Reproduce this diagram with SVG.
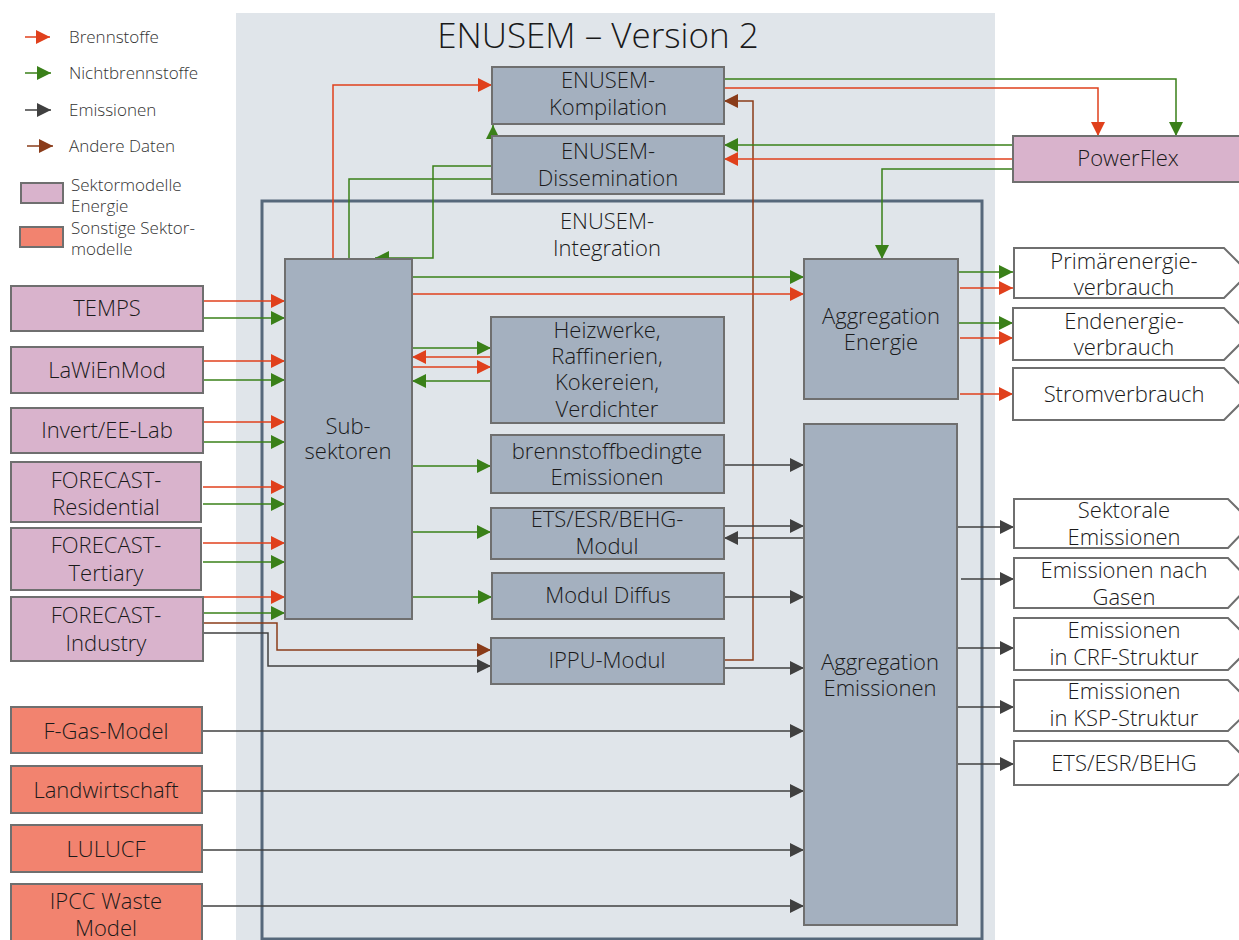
<svg xmlns="http://www.w3.org/2000/svg" width="1239" height="940" viewBox="0 0 1239 940">
<defs>
<style>
text{font-family:"Open Sans","Noto Sans","Liberation Sans",sans-serif;fill:#1a1a1a;text-anchor:middle;font-size:22px;font-weight:300}
.lg{font-size:17px;text-anchor:start;fill:#333}
.n{fill:#a4b0bf;stroke:#6f6f6f;stroke-width:2}
.p{fill:#d9b3cc;stroke:#6f6f6f;stroke-width:2}
.s{fill:#f2836f;stroke:#6f6f6f;stroke-width:2}
.o{fill:#fff;stroke:#6f6f6f;stroke-width:2}
.c{fill:none;stroke-width:1.5}
.r{stroke:#e0401c;marker-end:url(#ar)}
.g{stroke:#3a8019;marker-end:url(#ag)}
.d{stroke:#404040;marker-end:url(#ad)}
.b{stroke:#8a3c1a;marker-end:url(#ab)}
</style>
<marker id="ar" markerUnits="userSpaceOnUse" markerWidth="14" markerHeight="14" viewBox="0 0 12 12" refX="12" refY="6" orient="auto"><path d="M0,0L12,6L0,12z" fill="#e0401c"/></marker>
<marker id="ag" markerUnits="userSpaceOnUse" markerWidth="14" markerHeight="14" viewBox="0 0 12 12" refX="12" refY="6" orient="auto"><path d="M0,0L12,6L0,12z" fill="#3a8019"/></marker>
<marker id="ad" markerUnits="userSpaceOnUse" markerWidth="14" markerHeight="14" viewBox="0 0 12 12" refX="12" refY="6" orient="auto"><path d="M0,0L12,6L0,12z" fill="#404040"/></marker>
<marker id="ab" markerUnits="userSpaceOnUse" markerWidth="14" markerHeight="14" viewBox="0 0 12 12" refX="12" refY="6" orient="auto"><path d="M0,0L12,6L0,12z" fill="#8a3c1a"/></marker>
</defs>
<rect width="1239" height="940" fill="#fff"/>
<rect x="236" y="13" width="759" height="927" fill="#e0e5ea"/>
<text x="598" y="48" style="font-size:35px">ENUSEM – Version 2</text>

<g id="legend">
<path class="c r" d="M25,37H50"/>
<path class="c g" d="M25,73H51"/>
<path class="c d" d="M25,110H51"/>
<path class="c b" d="M27,146H53"/>
<text class="lg" x="69" y="43">Brennstoffe</text>
<text class="lg" x="69" y="79">Nichtbrennstoffe</text>
<text class="lg" x="69" y="116">Emissionen</text>
<text class="lg" x="69" y="152">Andere Daten</text>
<rect class="p" x="21" y="183" width="42" height="20"/>
<text class="lg" x="71" y="191">Sektormodelle</text>
<text class="lg" x="71" y="212">Energie</text>
<rect class="s" x="20" y="227" width="43" height="20"/>
<text class="lg" x="71" y="234">Sonstige Sektor-</text>
<text class="lg" x="71" y="255">modelle</text>
</g>

<g id="integration">
<rect x="262" y="201" width="720" height="738" fill="none" stroke="#56687b" stroke-width="3"/>
<text x="607" y="229">ENUSEM-</text>
<text x="607" y="256">Integration</text>
</g>

<g id="connectors">
<path class="c r" d="M333,259V85H492"/>
<path class="c g" d="M349,259V179H493V125"/>
<path class="c g" d="M492,166H433V258H375"/>
<path class="c g" d="M724,79H1176V136"/>
<path class="c r" d="M724,88H1098V136"/>
<path class="c b" d="M724,660H753V101H724"/>
<path class="c g" d="M1013,145H724"/>
<path class="c r" d="M1013,159H724"/>
<path class="c g" d="M1013,169H882V259"/>

<path class="c r" d="M203,301H285"/>
<path class="c g" d="M203,318H285"/>
<path class="c r" d="M203,361H285"/>
<path class="c g" d="M203,380H285"/>
<path class="c r" d="M203,422H285"/>
<path class="c g" d="M203,442H285"/>
<path class="c r" d="M203,487H285"/>
<path class="c g" d="M203,504H285"/>
<path class="c r" d="M203,543H285"/>
<path class="c g" d="M203,562H285"/>
<path class="c r" d="M203,597H285"/>
<path class="c g" d="M203,613H285"/>
<path class="c b" d="M203,623H277V650H491"/>
<path class="c d" d="M203,633H268V666H491"/>

<path class="c g" d="M412,277H804"/>
<path class="c r" d="M412,294H804"/>
<path class="c g" d="M412,348H491"/>
<path class="c r" d="M491,357H412"/>
<path class="c r" d="M412,367H491"/>
<path class="c g" d="M491,381H412"/>
<path class="c g" d="M412,466H491"/>
<path class="c g" d="M412,532H491"/>
<path class="c g" d="M412,597H492"/>

<path class="c d" d="M724,465H804"/>
<path class="c d" d="M724,526H804"/>
<path class="c d" d="M804,538H724"/>
<path class="c d" d="M724,597H804"/>
<path class="c d" d="M724,668H804"/>
<path class="c d" d="M202,731H804"/>
<path class="c d" d="M202,791H804"/>
<path class="c d" d="M202,850H804"/>
<path class="c d" d="M202,906H804"/>

<path class="c g" d="M958,272H1013"/>
<path class="c r" d="M960,288H1013"/>
<path class="c g" d="M958,323H1013"/>
<path class="c r" d="M960,338H1013"/>
<path class="c r" d="M960,394H1013"/>

<path class="c d" d="M957,527H1014"/>
<path class="c d" d="M961,579H1014"/>
<path class="c d" d="M957,648H1014"/>
<path class="c d" d="M957,707H1014"/>
<path class="c d" d="M957,764H1014"/>
</g>

<g id="kompilation"><rect class="n" x="492" y="67" width="232" height="57"/><text x="608" y="88">ENUSEM-</text><text x="608" y="115">Kompilation</text></g>
<g id="dissemination"><rect class="n" x="492" y="136" width="232" height="58"/><text x="608" y="159">ENUSEM-</text><text x="608" y="186">Dissemination</text></g>
<g id="subsektoren"><rect class="n" x="285" y="259" width="127" height="360"/><text x="348" y="434">Sub-</text><text x="348" y="459">sektoren</text></g>
<g id="heizwerke"><rect class="n" x="491" y="317" width="233" height="106"/><text x="607" y="338">Heizwerke,</text><text x="607" y="364">Raffinerien,</text><text x="607" y="390">Kokereien,</text><text x="607" y="417">Verdichter</text></g>
<g id="brennstoff"><rect class="n" x="491" y="435" width="233" height="58"/><text x="607" y="459">brennstoffbedingte</text><text x="607" y="485">Emissionen</text></g>
<g id="ets"><rect class="n" x="491" y="508" width="233" height="51"/><text x="607" y="527">ETS/ESR/BEHG-</text><text x="607" y="554">Modul</text></g>
<g id="diffus"><rect class="n" x="492" y="573" width="232" height="46"/><text x="608" y="603">Modul Diffus</text></g>
<g id="ippu"><rect class="n" x="491" y="638" width="233" height="46"/><text x="607" y="668">IPPU-Modul</text></g>
<g id="aggenergie"><rect class="n" x="804" y="259" width="154" height="140"/><text x="881" y="324">Aggregation</text><text x="881" y="350">Energie</text></g>
<g id="aggemissionen"><rect class="n" x="804" y="424" width="153" height="501"/><text x="880" y="670">Aggregation</text><text x="880" y="696">Emissionen</text></g>
<g id="powerflex"><rect class="p" x="1013" y="136" width="240" height="46"/><text x="1128" y="166">PowerFlex</text></g>

<g id="temps"><rect class="p" x="11" y="286" width="192" height="45"/><text x="107" y="316">TEMPS</text></g>
<g id="lawienmod"><rect class="p" x="11" y="347" width="192" height="46"/><text x="107" y="378">LaWiEnMod</text></g>
<g id="invert"><rect class="p" x="11" y="408" width="192" height="45"/><text x="107" y="438">Invert/EE-Lab</text></g>
<g id="fcres"><rect class="p" x="11" y="462" width="190" height="60"/><text x="106" y="488">FORECAST-</text><text x="106" y="515">Residential</text></g>
<g id="fcter"><rect class="p" x="11" y="528" width="190" height="62"/><text x="106" y="553">FORECAST-</text><text x="106" y="581">Tertiary</text></g>
<g id="fcind"><rect class="p" x="11" y="597" width="192" height="64"/><text x="106" y="623">FORECAST-</text><text x="106" y="651">Industry</text></g>
<g id="fgas"><rect class="s" x="11" y="707" width="191" height="46"/><text x="106" y="739">F-Gas-Model</text></g>
<g id="landw"><rect class="s" x="11" y="766" width="191" height="47"/><text x="106" y="798">Landwirtschaft</text></g>
<g id="lulucf"><rect class="s" x="11" y="825" width="191" height="47"/><text x="106" y="857">LULUCF</text></g>
<g id="ipcc"><rect class="s" x="11" y="884" width="191" height="70"/><text x="106" y="909">IPCC Waste</text><text x="106" y="936">Model</text></g>

<g id="primaer"><path class="o" d="M1014,248H1224L1249,273L1224,298H1014z"/><text x="1124" y="269">Primärenergie-</text><text x="1124" y="295">verbrauch</text></g>
<g id="endenergie"><path class="o" d="M1013,308H1224L1250,334L1224,360H1013z"/><text x="1124" y="329">Endenergie-</text><text x="1124" y="355">verbrauch</text></g>
<g id="strom"><path class="o" d="M1013,368H1224L1250,394L1224,420H1013z"/><text x="1124" y="402">Stromverbrauch</text></g>
<g id="sektorale"><path class="o" d="M1014,499H1228L1252,523L1228,548H1014z"/><text x="1124" y="518">Sektorale</text><text x="1124" y="545">Emissionen</text></g>
<g id="gasen"><path class="o" d="M1014,558H1228L1252,583L1228,608H1014z"/><text x="1124" y="578">Emissionen nach</text><text x="1124" y="605">Gasen</text></g>
<g id="crf"><path class="o" d="M1014,618H1228L1254,644L1228,670H1014z"/><text x="1124" y="638">Emissionen</text><text x="1124" y="665">in CRF-Struktur</text></g>
<g id="ksp"><path class="o" d="M1014,680H1228L1254,706L1228,731H1014z"/><text x="1124" y="699">Emissionen</text><text x="1124" y="726">in KSP-Struktur</text></g>
<g id="etsout"><path class="o" d="M1014,741H1228L1250,763L1228,785H1014z"/><text x="1124" y="771">ETS/ESR/BEHG</text></g>
</svg>
